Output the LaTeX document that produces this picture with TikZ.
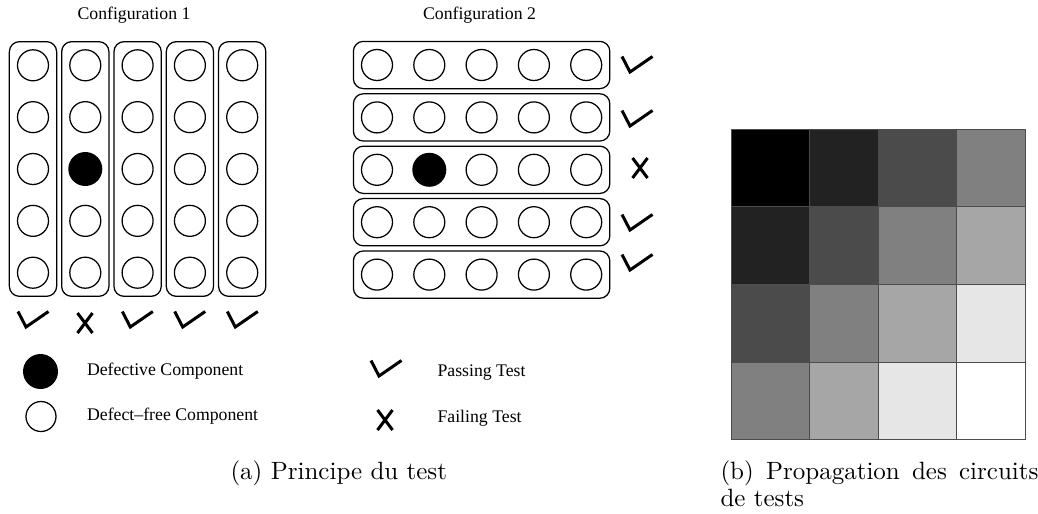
\documentclass[tikz,border=0pt]{standalone}
\usepackage{fontspec}
\newfontfamily\figfont[Ligatures=TeX]{Liberation Serif}
\usetikzlibrary{positioning, fit}
\definecolor{shade0}{gray}{0.000}
\definecolor{shade1}{gray}{0.133}
\definecolor{shade2}{gray}{0.294}
\definecolor{shade3}{gray}{0.502}
\definecolor{shade4}{gray}{0.651}
\definecolor{shade5}{gray}{0.902}
\definecolor{shade6}{gray}{1.000}
\tikzset{
    comp/.style={circle, draw, line width=0.5pt, minimum size=12.4pt, inner sep=0pt},
    defect/.style={circle, fill=black, minimum size=13.6pt, inner sep=0pt},
    group/.style={rectangle, rounded corners=4pt, draw, line width=0.5pt, inner sep=3pt},
    figtext/.style={font=\figfont\fontsize{7.1}{8.5}\selectfont, inner sep=0pt},
    caption/.style={font=\fontsize{10}{11.1}\selectfont, inner sep=0pt},
    markline/.style={line width=1.2pt},
    cell/.style={draw=black!70, line width=0.4pt},
    passmark/.pic={\draw[markline] (-8,-15.5) -- (0,0) -- (22.5,-15.5);},
    failmark/.pic={\draw[markline] (-7.5,-10) -- (7.5,10) (7.5,-10) -- (-7.5,10);},
}
\begin{document}
\begin{tikzpicture}[x=0.4pt, y=-0.4pt]
    \useasboundingbox (0,0) rectangle (1038,513);

    % Configuration 1 : colonnes
    \node[figtext] (title1) at (134,15) {Configuration 1};
    \foreach \i in {1,...,5}
        \foreach \j in {1,...,5} {
            \def\kind{comp}
            \ifnum\i\j=23 \def\kind{defect}\fi
            \node[\kind] (a\i\j) at ({33+52.3*(\i-1)}, {65.3+51.85*(\j-1)}) {};
        }
    \foreach \i in {1,...,5}
        \node[group, fit=(a\i1)(a\i5)] (col\i) {};
    % resultats des tests (colonnes)
    \pic at (26,327) {passmark};
    \pic at (85,323) {failmark};
    \pic at (130.3,327) {passmark};
    \pic at (182.7,327) {passmark};
    \pic at (235.3,327) {passmark};

    % Configuration 2 : lignes
    \node[figtext] (title2) at (479.5,15) {Configuration 2};
    \foreach \i in {1,...,5}
        \foreach \j in {1,...,5} {
            \def\kind{comp}
            \ifnum\i\j=23 \def\kind{defect}\fi
            \node[\kind] (b\i\j) at ({377+52.3*(\i-1)}, {65+52.4*(\j-1)}) {};
        }
    \foreach \j in {1,...,5}
        \node[group, fit=(b1\j)(b5\j)] (row\j) {};
    % resultats des tests (lignes)
    \pic at (630,72) {passmark};
    \pic at (630,126) {passmark};
    \pic at (640,168) {failmark};
    \pic at (630,230) {passmark};
    \pic at (630,270) {passmark};

    % Legende
    \node[defect, minimum size=14pt] (legdef) at (40.5,371.5) {};
    \node[comp, minimum size=12pt] (legok) at (41,416.5) {};
    \node[figtext, right=11.2pt of legdef] (legdeftext) {Defective Component};
    \node[figtext, right=12pt of legok] (legoktext) {Defect--free Component};
    \pic at (379,376) {passmark};
    \pic at (385,420) {failmark};
    \node[figtext, anchor=west] (legpass) at (437,373) {Passing Test};
    \node[figtext, anchor=west] (legfail) at (437,418) {Failing Test};

    % Propagation : grille 4x4
    \foreach \i/\xa/\xb in {0/731/809.5, 1/809.5/878.7, 2/878.7/956.5, 3/956.5/1025.7}
        \foreach \j/\ya/\yb in {0/129/206.7, 1/206.7/284.3, 2/284.3/362, 3/362/439.3} {
            \pgfmathtruncatemacro{\k}{\i+\j}
            \draw[cell, fill=shade\k] (\xa,\ya) rectangle (\xb,\yb);
        }

    % Legendes des sous-figures
    \node[caption, anchor=base west] (capa) at (230,479) {(a) Principe du test};
    \node[caption, anchor=base west, text width=127.2pt, align=justify] (capb) at (720,479)
        {(b) Propagation des circuits de tests};
\end{tikzpicture}
\end{document}
